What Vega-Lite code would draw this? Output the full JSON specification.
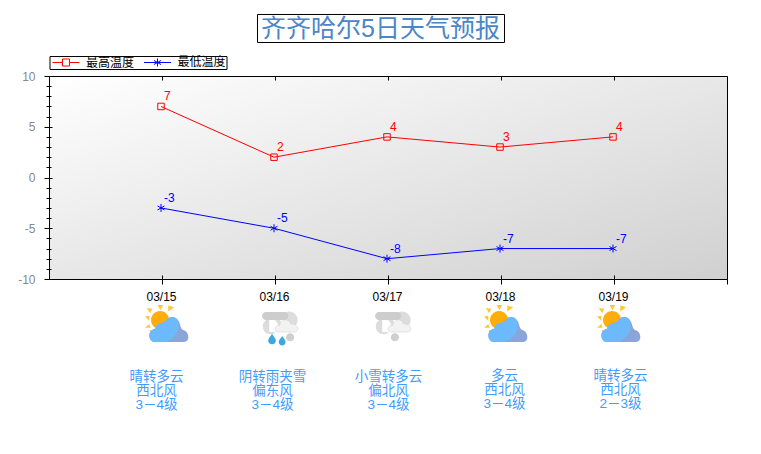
{
  "$schema": "https://vega.github.io/schema/vega-lite/v6.json",
  "autosize": "none",
  "padding": {"left": 49, "top": 76, "right": 34, "bottom": 175},
  "width": 678,
  "height": 203,
  "background": "white",
  "config": {
    "font": "Liberation Sans, Noto Sans CJK SC",
    "view": {
      "stroke": "#000000",
      "strokeWidth": 1,
      "fill": {
        "gradient": "linear",
        "x1": 0, "y1": 0, "x2": 1, "y2": 1,
        "stops": [{"offset": 0, "color": "#ffffff"}, {"offset": 1, "color": "#d0d0d0"}]
      }
    }
  },
  "datasets": {
    "temps": [
      {"date": "03/15", "series": "最高温度", "temp": 7},
      {"date": "03/16", "series": "最高温度", "temp": 2},
      {"date": "03/17", "series": "最高温度", "temp": 4},
      {"date": "03/18", "series": "最高温度", "temp": 3},
      {"date": "03/19", "series": "最高温度", "temp": 4},
      {"date": "03/15", "series": "最低温度", "temp": -3},
      {"date": "03/16", "series": "最低温度", "temp": -5},
      {"date": "03/17", "series": "最低温度", "temp": -8},
      {"date": "03/18", "series": "最低温度", "temp": -7},
      {"date": "03/19", "series": "最低温度", "temp": -7}
    ],
    "days": [
      {"date": "03/15", "icon": "sun", "lines": ["晴转多云", "西北风", "3－4级"]},
      {"date": "03/16", "icon": "rain", "lines": ["阴转雨夹雪", "偏东风", "3－4级"]},
      {"date": "03/17", "icon": "snow", "lines": ["小雪转多云", "偏北风", "3－4级"]},
      {"date": "03/18", "icon": "sun", "lines": ["多云", "西北风", "3－4级"]},
      {"date": "03/19", "icon": "sun", "lines": ["晴转多云", "西北风", "2－3级"]}
    ]
  },
  "encoding": {
    "x": {
      "field": "date",
      "type": "ordinal",
      "scale": {
        "type": "point",
        "padding": 0,
        "domain": ["", "03/15", "03/16", "03/17", "03/18", "03/19", " "]
      },
      "axis": {
        "title": null,
        "values": ["03/15", "03/16", "03/17", "03/18", "03/19", " "],
        "labelAngle": 0,
        "labelFontSize": 12,
        "labelColor": "#000000",
        "labelPadding": 7,
        "labelOverlap": false,
        "labelFlush": false,
        "labelOffset": -1,
        "domain": false,
        "tickColor": "#000000",
        "tickSize": 5,
        "grid": true,
        "gridColor": "#000000",
        "gridDash": [4, 195, 4]
      }
    },
    "y": {
      "field": "temp",
      "type": "quantitative",
      "scale": {"domain": [-10, 10], "nice": false},
      "axis": {
        "title": null,
        "values": [-10, -9, -8, -7, -6, -5, -4, -3, -2, -1, 0, 1, 2, 3, 4, 5, 6, 7, 8, 9, 10],
        "labelExpr": "datum.value % 5 === 0 ? '' + datum.value : ''",
        "labelFontSize": 12,
        "labelColor": "#888888",
        "labelPadding": 9,
        "labelOverlap": false,
        "labelFlush": false,
        "domain": false,
        "tickColor": "#000000",
        "tickSize": {"condition": {"test": "datum.value % 5 === 0", "value": 5}, "value": 3},
        "grid": true,
        "gridColor": "#000000",
        "gridDash": {"condition": {"test": "datum.value % 5 === 0", "value": [3, 2000]}, "value": [2, 2000]}
      }
    }
  },
  "layer": [
    {
      "data": {"name": "temps"},
      "mark": {"type": "line", "strokeWidth": 1, "xOffset": -1},
      "encoding": {
        "stroke": {
          "field": "series",
          "type": "nominal",
          "scale": {"domain": ["最高温度", "最低温度"], "range": ["#ff0000", "#0000ff"]},
          "legend": {
            "title": null,
            "orient": "none",
            "legendX": 0.5,
            "legendY": -20,
            "direction": "horizontal",
            "columns": 2,
            "padding": 0,
            "strokeColor": "#000000",
            "fillColor": "#ffffff",
            "symbolSize": 121,
            "symbolOpacity": 1,
            "symbolStrokeWidth": 1,
            "symbolFillColor": "transparent",
            "symbolOffset": 10.5,
            "labelOffset": 14,
            "labelFontSize": 12,
            "labelColor": "#000000",
            "columnPadding": 6.5,
            "rowPadding": 0
          }
        }
      }
    },
    {
      "data": {"name": "temps"},
      "mark": {"type": "point", "opacity": 0, "filled": false},
      "encoding": {
        "stroke": {"field": "series", "type": "nominal"},
        "shape": {
          "field": "series",
          "type": "nominal",
          "scale": {
            "domain": ["最高温度", "最低温度"],
            "range": [
              "M-2.45,0H-0.64M0.64,0H2.45M-0.64,-0.64H0.64V0.64H-0.64Z",
              "M-2.45,0H2.45M0,-0.73V0.73M-0.64,-0.37L0.64,0.37M-0.64,0.37L0.64,-0.37"
            ]
          }
        }
      }
    },
    {
      "data": {"name": "temps"},
      "transform": [{"filter": "datum.series === '最高温度'"}],
      "mark": {"type": "point", "shape": "square", "filled": false, "size": 42, "strokeWidth": 1, "opacity": 1, "color": "#ff0000", "xOffset": -1}
    },
    {
      "data": {"name": "temps"},
      "transform": [{"filter": "datum.series === '最低温度'"}],
      "mark": {"type": "point", "shape": "M0,-1V1M-0.87,-0.5L0.87,0.5M-0.87,0.5L0.87,-0.5", "filled": false, "size": 64, "strokeWidth": 1, "opacity": 1, "color": "#0000ff", "xOffset": -1}
    },
    {
      "data": {"name": "temps"},
      "transform": [{"filter": "datum.series === '最高温度'"}],
      "mark": {"type": "text", "align": "left", "baseline": "middle", "dx": 2, "dy": -10, "fontSize": 12, "color": "#ff0000"},
      "encoding": {"text": {"field": "temp", "type": "nominal"}}
    },
    {
      "data": {"name": "temps"},
      "transform": [{"filter": "datum.series === '最低温度'"}],
      "mark": {"type": "text", "align": "left", "baseline": "middle", "dx": 2, "dy": -10, "fontSize": 12, "color": "#0000ff"},
      "encoding": {"text": {"field": "temp", "type": "nominal"}}
    },
    {
      "data": {"values": [{"date": "03/17", "title": "齐齐哈尔5日天气预报"}]},
      "transform": [{"calculate": "10", "as": "temp"}],
      "mark": {"type": "point", "shape": "M-1,-0.1134H1V0.1134H-1Z", "size": 61009, "filled": false, "stroke": "#000000", "strokeWidth": 1, "opacity": 1, "xOffset": -7, "yOffset": -47.5}
    },
    {
      "data": {"values": [{"date": "03/17", "title": "齐齐哈尔5日天气预报"}]},
      "transform": [{"calculate": "10", "as": "temp"}],
      "mark": {"type": "text", "align": "center", "baseline": "middle", "dx": -7.5, "dy": -47, "fontSize": 25, "color": "#4a86c8"},
      "encoding": {"text": {"field": "title"}}
    },
    {
      "data": {"name": "days"},
      "transform": [{"filter": "datum.icon === 'sun'"}, {"calculate": "-10", "as": "temp"}],
      "mark": {"type": "point", "shape": "M-0.72,-0.3a0.42,0.42 0 1,0 0.84,0a0.42,0.42 0 1,0 -0.84,0Z", "size": 1849, "filled": true, "fill": "#ffad0a", "stroke": null, "opacity": 1, "xOffset": 4.5, "yOffset": 47.5}
    },
    {
      "data": {"name": "days"},
      "transform": [{"filter": "datum.icon === 'sun'"}, {"calculate": "-10", "as": "temp"}],
      "mark": {"type": "point", "shape": "M-0.42,-1L-0.16,-1L-0.28,-0.76ZM-0.92,-0.86L-0.66,-0.82L-0.76,-0.62ZM0.08,-0.98L0.36,-0.9L0.08,-0.7ZM-1,-0.46L-0.8,-0.5L-0.8,-0.26ZM-1,0.06L-0.8,-0.12L-0.74,0.06ZM-0.76,0.42L-0.78,0.16L-0.56,0.22Z", "size": 1849, "filled": true, "fill": "#ffc63a", "stroke": null, "opacity": 1, "xOffset": 4.5, "yOffset": 47.5}
    },
    {
      "data": {"name": "days"},
      "transform": [{"filter": "datum.icon === 'sun'"}, {"calculate": "-10", "as": "temp"}],
      "mark": {"type": "point", "shape": "M-0.53,0.72C-0.85,0.72 -0.92,0.16 -0.52,0.1C-0.45,-0.22 -0.12,-0.15 -0.05,-0.22C0.1,-0.55 0.52,-0.5 0.62,-0.12C0.66,0.06 0.72,0.14 0.78,0.16C1.08,0.24 1.1,0.72 0.81,0.72Z", "size": 1849, "filled": true, "fill": "#8aa5d6", "stroke": null, "opacity": 1, "xOffset": 4.5, "yOffset": 47.5}
    },
    {
      "data": {"name": "days"},
      "transform": [{"filter": "datum.icon === 'sun'"}, {"calculate": "-10", "as": "temp"}],
      "mark": {"type": "point", "shape": "M-0.53,0.72C-0.85,0.72 -0.92,0.16 -0.52,0.1C-0.45,-0.22 -0.12,-0.15 -0.05,-0.22C0.1,-0.55 0.52,-0.5 0.56,-0.16C0.62,0.3 0.3,0.62 -0.05,0.72Z", "size": 1849, "filled": true, "fill": "#6db9fd", "stroke": null, "opacity": 1, "xOffset": 4.5, "yOffset": 47.5}
    },
    {
      "data": {"name": "days"},
      "transform": [{"filter": "datum.icon !== 'sun'"}, {"calculate": "-10", "as": "temp"}],
      "mark": {"type": "point", "shape": "M0.02,-0.3a0.4,0.4 0 1,0 0.8,0a0.4,0.4 0 1,0 -0.8,0ZM-0.8,0a0.36,0.36 0 1,0 0.72,0a0.36,0.36 0 1,0 -0.72,0ZM-0.5,-0.3H0.3V0.25H-0.5Z", "size": 1849, "filled": true, "fill": "#dcdcdc", "stroke": null, "opacity": 1, "xOffset": 5, "yOffset": 47.5}
    },
    {
      "data": {"name": "days"},
      "transform": [{"filter": "datum.icon !== 'sun'"}, {"calculate": "-10", "as": "temp"}],
      "mark": {"type": "point", "shape": "M-0.65,-0.67H0.2A0.18,0.18 0 0 1 0.2,-0.3H-0.65A0.18,0.18 0 0 1 -0.65,-0.67Z", "size": 1849, "filled": true, "fill": "#cdcdcd", "stroke": null, "opacity": 1, "xOffset": 5, "yOffset": 47.5}
    },
    {
      "data": {"name": "days"},
      "transform": [{"filter": "datum.icon !== 'sun'"}, {"calculate": "-10", "as": "temp"}],
      "mark": {"type": "point", "shape": "M-0.05,0.26C-0.3,0.26 -0.3,-0.08 -0.02,-0.05C0.05,-0.35 0.4,-0.4 0.5,-0.12C0.85,-0.15 0.95,0.26 0.65,0.26Z", "size": 1849, "filled": true, "fill": "#f2f2f2", "stroke": "#d0d0d0", "strokeWidth": 0.5, "opacity": 1, "xOffset": 5, "yOffset": 47.5}
    },
    {
      "data": {"name": "days"},
      "transform": [{"filter": "datum.icon === 'rain'"}, {"calculate": "-10", "as": "temp"}],
      "mark": {"type": "point", "shape": "M-0.37,0.34C-0.45,0.48 -0.55,0.55 -0.55,0.65A0.18,0.18 0 0 0 -0.19,0.65C-0.19,0.55 -0.3,0.48 -0.37,0.34ZM0.1,0.44C0.03,0.56 -0.06,0.62 -0.06,0.72A0.16,0.16 0 0 0 0.26,0.72C0.26,0.62 0.17,0.56 0.1,0.44Z", "size": 1849, "filled": true, "fill": "#39a9e0", "stroke": null, "opacity": 1, "xOffset": 5, "yOffset": 47.5}
    },
    {
      "data": {"name": "days"},
      "transform": [{"filter": "datum.icon === 'rain'"}, {"calculate": "-10", "as": "temp"}],
      "mark": {"type": "point", "shape": "M0.28,0.5a0.19,0.19 0 1,0 0.38,0a0.19,0.19 0 1,0 -0.38,0Z", "size": 1849, "filled": true, "fill": "#cfcfcf", "stroke": null, "opacity": 1, "xOffset": 5, "yOffset": 47.5}
    },
    {
      "data": {"name": "days"},
      "transform": [{"filter": "datum.icon === 'snow'"}, {"calculate": "-10", "as": "temp"}],
      "mark": {"type": "point", "shape": "M-0.1,0.5a0.19,0.19 0 1,0 0.38,0a0.19,0.19 0 1,0 -0.38,0Z", "size": 1849, "filled": true, "fill": "#cfcfcf", "stroke": null, "opacity": 1, "xOffset": 5, "yOffset": 47.5}
    },
    {
      "data": {"name": "days"},
      "transform": [{"filter": "datum.date === '03/15'"}, {"calculate": "-10", "as": "temp"}],
      "mark": {"type": "text", "baseline": "alphabetic", "align": "center", "dx": -5.5, "dy": 102, "fontSize": 13.5, "lineHeight": 14, "color": "#3f9bff"},
      "encoding": {"text": {"field": "lines"}}
    },
    {
      "data": {"name": "days"},
      "transform": [{"filter": "datum.date === '03/16'"}, {"calculate": "-10", "as": "temp"}],
      "mark": {"type": "text", "baseline": "alphabetic", "align": "center", "dx": -2.5, "dy": 102, "fontSize": 13.5, "lineHeight": 14, "color": "#3f9bff"},
      "encoding": {"text": {"field": "lines"}}
    },
    {
      "data": {"name": "days"},
      "transform": [{"filter": "datum.date === '03/17'"}, {"calculate": "-10", "as": "temp"}],
      "mark": {"type": "text", "baseline": "alphabetic", "align": "center", "dx": 0.5, "dy": 102, "fontSize": 13.5, "lineHeight": 14, "color": "#3f9bff"},
      "encoding": {"text": {"field": "lines"}}
    },
    {
      "data": {"name": "days"},
      "transform": [{"filter": "datum.date === '03/18'"}, {"calculate": "-10", "as": "temp"}],
      "mark": {"type": "text", "baseline": "alphabetic", "align": "center", "dx": 3.5, "dy": 101, "fontSize": 13.5, "lineHeight": 14, "color": "#3f9bff"},
      "encoding": {"text": {"field": "lines"}}
    },
    {
      "data": {"name": "days"},
      "transform": [{"filter": "datum.date === '03/19'"}, {"calculate": "-10", "as": "temp"}],
      "mark": {"type": "text", "baseline": "alphabetic", "align": "center", "dx": 6.5, "dy": 101, "fontSize": 13.5, "lineHeight": 14, "color": "#3f9bff"},
      "encoding": {"text": {"field": "lines"}}
    }
  ]
}
